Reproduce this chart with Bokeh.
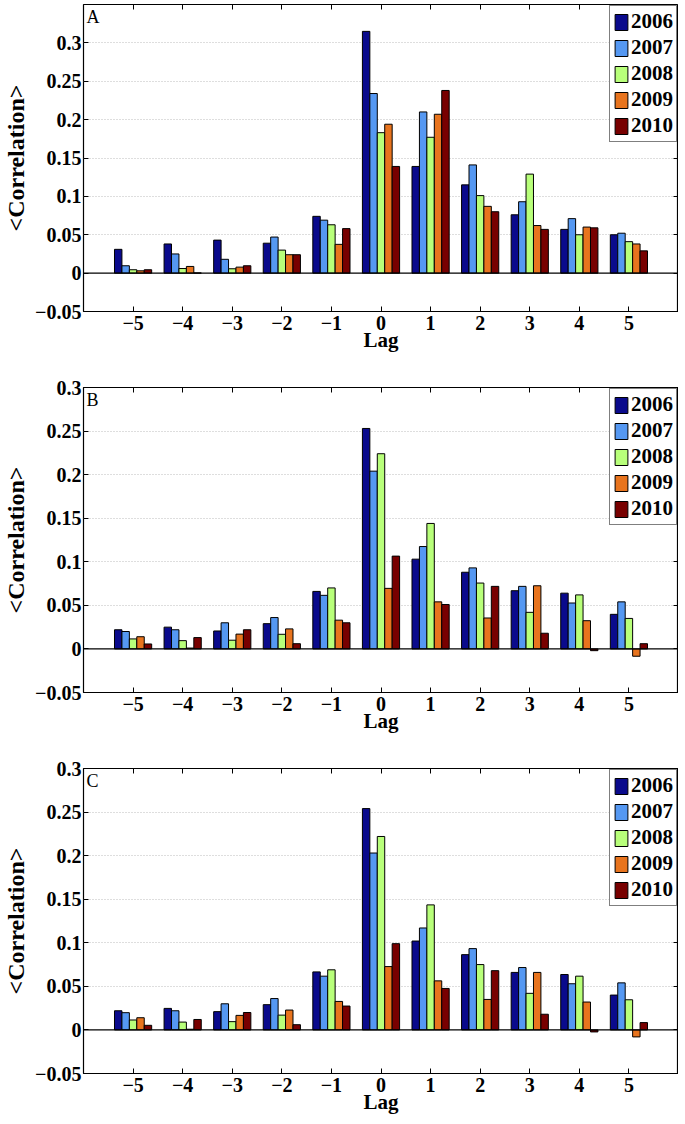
from bokeh.plotting import figure
from bokeh.layouts import column
from bokeh.models import (ColumnDataSource, FixedTicker, Span, Label, LinearAxis,
                          CustomJSTickFormatter, Legend, LegendItem, Range1d)
from bokeh.transform import dodge
from bokeh.embed import file_html
from bokeh.resources import INLINE

lags = [-5, -4, -3, -2, -1, 0, 1, 2, 3, 4, 5]
years = ["2006", "2007", "2008", "2009", "2010"]
colors = ["#0a0a8c", "#5598f2", "#b8ff7a", "#e8741e", "#780000"]

# Panel A
a_2006 = [0.031, 0.038, 0.043, 0.039, 0.074, 0.315, 0.139, 0.115, 0.076, 0.057, 0.050]
a_2007 = [0.0096, 0.025, 0.018, 0.047, 0.069, 0.234, 0.210, 0.141, 0.093, 0.071, 0.052]
a_2008 = [0.0044, 0.006, 0.0057, 0.030, 0.063, 0.183, 0.177, 0.101, 0.129, 0.050, 0.041]
a_2009 = [0.003, 0.0087, 0.0078, 0.024, 0.0375, 0.194, 0.207, 0.087, 0.062, 0.060, 0.038]
a_2010 = [0.0044, 0.0003, 0.0096, 0.024, 0.058, 0.139, 0.238, 0.080, 0.057, 0.059, 0.029]

# Panel B
b_2006 = [0.022, 0.025, 0.0206, 0.029, 0.066, 0.253, 0.103, 0.088, 0.0668, 0.064, 0.0397]
b_2007 = [0.020, 0.022, 0.030, 0.036, 0.0615, 0.204, 0.1175, 0.093, 0.0718, 0.0527, 0.054]
b_2008 = [0.0115, 0.0095, 0.010, 0.0168, 0.070, 0.224, 0.144, 0.0756, 0.042, 0.062, 0.035]
b_2009 = [0.014, 0.001, 0.017, 0.023, 0.033, 0.0695, 0.054, 0.0355, 0.0725, 0.0324, -0.0084]
b_2010 = [0.0057, 0.013, 0.022, 0.006, 0.030, 0.1065, 0.051, 0.0718, 0.018, -0.002, 0.006]

# Panel C
c_2006 = [0.022, 0.0247, 0.021, 0.029, 0.0666, 0.254, 0.102, 0.0864, 0.066, 0.0636, 0.040]
c_2007 = [0.0198, 0.022, 0.030, 0.036, 0.0617, 0.203, 0.117, 0.0933, 0.0716, 0.053, 0.054]
c_2008 = [0.0114, 0.009, 0.0095, 0.017, 0.069, 0.222, 0.1435, 0.075, 0.042, 0.0617, 0.0346]
c_2009 = [0.014, 0.0008, 0.0167, 0.0228, 0.0327, 0.0727, 0.0563, 0.035, 0.066, 0.032, -0.008]
c_2010 = [0.0053, 0.012, 0.020, 0.006, 0.0274, 0.099, 0.0476, 0.068, 0.018, -0.0023, 0.0084]

yticks_a = [-0.05, 0, 0.05, 0.1, 0.15, 0.2, 0.25, 0.3]
yticks_bc = [-0.05, 0, 0.05, 0.1, 0.15, 0.2, 0.25, 0.3]

FONT = "Liberation Serif"
fmt_code = """
if (Math.abs(tick) < 1e-9) return "0";
var s = parseFloat(tick.toFixed(3)).toString();
return s.replace("-", "\\u2212");
"""


def make_panel(letter, series, ymin, ymax, yticks, frame_h, border_top, border_bottom):
    p = figure(frame_width=595, frame_height=frame_h, output_backend="svg",
               toolbar_location=None, x_range=Range1d(-6, 6), y_range=Range1d(ymin, ymax),
               min_border_left=0, min_border_right=0, min_border_top=border_top,
               min_border_bottom=border_bottom, background_fill_color="white",
               border_fill_color="white")
    p.outline_line_color = "black"
    p.outline_line_width = 1.2

    data = {"lag": lags}
    for y, s in zip(years, series):
        data["y" + y] = s
    src = ColumnDataSource(data)

    offsets = [-0.3, -0.15, 0.0, 0.15, 0.3]
    items = []
    for y, c, off in zip(years, colors, offsets):
        r = p.vbar(x=dodge("lag", off, range=p.x_range), top="y" + y, bottom=0,
                   width=0.15, source=src, fill_color=c, line_color="black",
                   line_width=1)
        items.append(LegendItem(label=y, renderers=[r]))

    p.add_layout(Span(location=0, dimension="width", line_color="black", line_width=1.2))

    fmt = CustomJSTickFormatter(code=fmt_code)
    # bottom axis
    xa = p.xaxis[0]
    xa.ticker = FixedTicker(ticks=lags)
    xa.formatter = fmt
    xa.axis_label = "Lag"
    xa.axis_label_standoff = -5
    xa.axis_label_text_font = FONT
    xa.axis_label_text_font_style = "bold"
    xa.axis_label_text_font_size = "21px"
    xa.axis_label_text_color = "black"
    xa.major_label_text_font = FONT
    xa.major_label_text_font_style = "bold"
    xa.major_label_text_font_size = "20px"
    xa.major_label_text_color = "black"
    xa.major_label_standoff = 4
    xa.major_tick_in = 5
    xa.major_tick_out = 0
    xa.minor_tick_in = 0
    xa.minor_tick_out = 0
    xa.axis_line_color = None

    ya = p.yaxis[0]
    ya.ticker = FixedTicker(ticks=yticks)
    ya.formatter = fmt
    ya.axis_label = "<Correlation>"
    ya.axis_label_standoff = 3
    ya.axis_label_text_font = FONT
    ya.axis_label_text_font_style = "bold"
    ya.axis_label_text_font_size = "24px"
    ya.axis_label_text_color = "black"
    ya.major_label_text_font = FONT
    ya.major_label_text_font_style = "bold"
    ya.major_label_text_font_size = "20px"
    ya.major_label_text_color = "black"
    ya.major_label_standoff = 2
    ya.major_tick_in = 5
    ya.major_tick_out = 0
    ya.minor_tick_in = 0
    ya.minor_tick_out = 0
    ya.axis_line_color = None

    # top and right tick-only axes (labels not drawn)
    top = LinearAxis(ticker=FixedTicker(ticks=lags), major_label_text_color=None,
                     major_label_standoff=0, major_tick_in=5, major_tick_out=0,
                     minor_tick_in=0, minor_tick_out=0, axis_line_color=None)
    right = LinearAxis(ticker=FixedTicker(ticks=yticks), major_label_text_color=None,
                       major_label_standoff=0, major_tick_in=5, major_tick_out=0,
                       minor_tick_in=0, minor_tick_out=0, axis_line_color=None)
    p.add_layout(top, "above")
    p.add_layout(right, "right")

    p.xgrid.visible = False
    p.ygrid.ticker = FixedTicker(ticks=[t for t in yticks if t > 0])
    p.ygrid.grid_line_color = "#bdbdbd"
    p.ygrid.grid_line_dash = "1 2"
    p.ygrid.grid_line_width = 1

    legend = Legend(items=items, location="top_right")
    legend.label_text_font = FONT
    legend.label_text_font_style = "bold"
    legend.label_text_font_size = "21px"
    legend.label_text_color = "black"
    legend.glyph_width = 16
    legend.glyph_height = 20
    legend.label_height = 20
    legend.label_standoff = 2
    legend.spacing = 1
    legend.padding = 3
    legend.margin = 1
    legend.border_line_color = "black"
    legend.border_line_width = 1.5
    legend.background_fill_alpha = 1
    p.add_layout(legend)

    p.add_layout(Label(x=-6, y=ymax, x_offset=3, y_offset=-2, text=letter,
                       text_font=FONT, text_font_size="18px", text_baseline="top",
                       text_color="black"))
    return p


pa = make_panel("A", [a_2006, a_2007, a_2008, a_2009, a_2010], -0.05, 0.35, yticks_a,
                307, 4, 56)
pb = make_panel("B", [b_2006, b_2007, b_2008, b_2009, b_2010], -0.05, 0.3, yticks_bc,
                305, 20, 56)
pc = make_panel("C", [c_2006, c_2007, c_2008, c_2009, c_2010], -0.05, 0.3, yticks_bc,
                305, 20, 0)

layout = column(pa, pb, pc, spacing=0)
open("out.html", "w").write(file_html(layout, INLINE))
